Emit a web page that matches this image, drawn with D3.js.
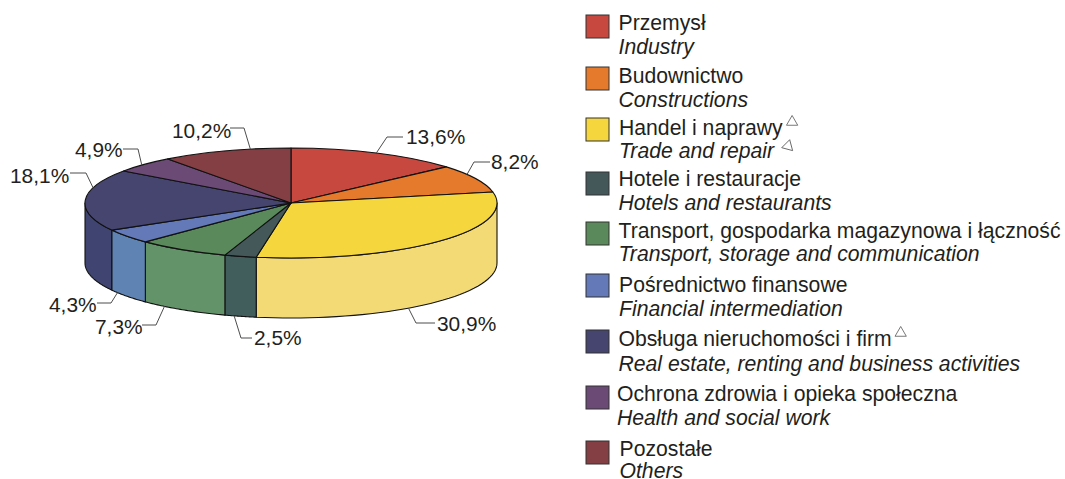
<!DOCTYPE html>
<html><head><meta charset="utf-8">
<script src="https://cdnjs.cloudflare.com/ajax/libs/d3/7.8.5/d3.min.js"></script>
<style>html,body{margin:0;padding:0;background:#fff}svg{display:block}text{font-family:"Liberation Sans",Arial,sans-serif;fill:#231f20}</style>
</head><body><svg id="c" width="1065" height="479"></svg>
<script>
const namesPl=["Przemysł","Budownictwo","Handel i naprawy","Hotele i restauracje","Transport, gospodarka magazynowa i łączność","Pośrednictwo finansowe","Obsługa nieruchomości i firm","Ochrona zdrowia i opieka społeczna","Pozostałe"];
const namesEn=["Industry","Constructions","Trade and repair","Hotels and restaurants","Transport, storage and communication","Financial intermediation","Real estate, renting and business activities","Health and social work","Others"];
const values=[13.6,8.2,30.9,2.5,7.3,4.3,18.1,4.9,10.2];
const topColors=["#c7483f","#e67a2c","#f5d63d","#44585a","#5a8a5b","#6379b8","#45456f","#6b4a75","#833f43"];
const sideColors=["#c7483f","#e67a2c","#f4da74","#415e5c","#639368","#5f83b3","#3f4570","#6b4a75","#833f43"];
const plMark=[false,false,true,false,false,false,true,false,false];
const enMark=[false,false,true,false,false,false,false,false,false];

const cx=291,cy=203,rx=206,ry=55,depth=60;
const svg=d3.select("#c");
const pie=d3.pie().sort(null).value(d=>d).startAngle(0).endAngle(2*Math.PI);
const arcs=pie(values);
const px=a=>cx+rx*Math.sin(a), py=a=>cy-ry*Math.cos(a);
const lo=Math.PI/2, hi=3*Math.PI/2;

// side walls
const gs=svg.append("g");
arcs.forEach((d,i)=>{
  const a0=Math.max(d.startAngle,lo), a1=Math.min(d.endAngle,hi);
  if(a1<=a0) return;
  const p=d3.path();
  p.moveTo(px(a0),py(a0));
  const n=40;
  d3.range(1,n+1).forEach(k=>{const a=a0+(a1-a0)*k/n;p.lineTo(px(a),py(a));});
  d3.range(n,-1,-1).forEach(k=>{const a=a0+(a1-a0)*k/n;p.lineTo(px(a),py(a)+depth);});
  p.closePath();
  gs.append("path").attr("d",p.toString()).attr("fill",sideColors[i]).attr("stroke","#111").attr("stroke-width",1.1).attr("stroke-linejoin","round");
});

// top slices
const arc=d3.arc().innerRadius(0).outerRadius(rx);
const gt=svg.append("g").attr("transform",`translate(${cx},${cy}) scale(1,${ry/rx})`);
gt.selectAll("path").data(arcs).join("path").attr("d",arc)
  .attr("fill",(d,i)=>topColors[i]).attr("stroke","#111").attr("stroke-width",1.1)
  .attr("stroke-linejoin","round").attr("vector-effect","non-scaling-stroke");

// percentage labels with leaders
const labelText=values.map(v=>v.toFixed(1).replace(".",",")+"%");
const anchorT=[.5,.33,.6,.7,.73,.8,.7,.45,.69];
const elbows=[[387,137],[474,162],[416,323],[241,338],[156,325],[111,303],[86,173],[138,149],[244,128]];
const ends=[[403,137],[490,162],[435,323],[252,338],[142,325],[97,303],[70,173],[123,149],[230,128]];
const labelPos=[[406,144],[491,169],[437,331],[254,345],[95,334],[49,312],[10,183],[75,157],[172,138]];
const gl=svg.append("g");
arcs.forEach((d,i)=>{
  const a=d.startAngle+(d.endAngle-d.startAngle)*anchorT[i];
  const front=a>lo&&a<hi;
  gl.append("path").attr("d",d3.line()([[px(a),py(a)+(front?depth:0)],elbows[i],ends[i]]))
    .attr("fill","none").attr("stroke","#4d4d4d").attr("stroke-width",1);
  gl.append("text").attr("x",labelPos[i][0]).attr("y",labelPos[i][1]).attr("font-size",20.9).text(labelText[i]);
});

// legend
const swatchY=[15,67,118,172,222,274,330,386,441];
const textX=[618.5,618.5,619,618.5,618.5,619,618.5,617,619.5];
const baseA=[30,83,135,186,238,292,346,401,456];
const baseB=[54,107,158,210,261,316,371,425,478];
const gk=svg.append("g");
namesPl.forEach((n,i)=>{
  gk.append("rect").attr("x",586).attr("y",swatchY[i]).attr("width",23).attr("height",23)
    .attr("fill",topColors[i]).attr("stroke","#333").attr("stroke-width",1);
  const t=gk.append("text").attr("x",textX[i]).attr("y",baseA[i]).attr("font-size",21.2).text(n);
  const e=gk.append("text").attr("x",textX[i]).attr("y",baseB[i]).attr("font-size",21.2).attr("font-style","italic").text(namesEn[i]);
  const tri=(el,gapX,dy,rot)=>{
    const b=el.node().getBBox();
    const x=b.x+b.width+gapX, y=+el.attr("y")+dy;
    gk.append("path").attr("d",d3.symbol(d3.symbolTriangle,55)()).attr("transform",`translate(${x},${y}) rotate(${rot})`)
      .attr("fill","none").attr("stroke","#555").attr("stroke-width",.8);
  };
  if(plMark[i]) tri(t,9,-13,0);
  if(enMark[i]) tri(e,13,-12,15);
});
</script></body></html>
